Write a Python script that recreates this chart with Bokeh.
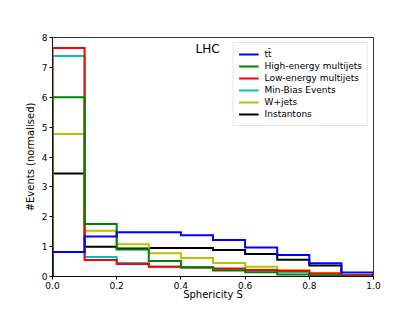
import numpy as np
from bokeh.plotting import figure
from bokeh.models import Legend, LegendItem, FixedTicker, Label
from bokeh.embed import file_html
from bokeh.resources import INLINE

edges = [0.0, 0.1, 0.2, 0.3, 0.4, 0.5, 0.6, 0.7, 0.8, 0.9, 1.0]

names = ["tt̄", "High-energy multijets", "Low-energy multijets",
         "Min-Bias Events", "W+jets", "Instantons"]
colors = ["#0000ff", "#008000", "#ff0000", "#00bfbf", "#bfbf00", "#000000"]

ttbar = [0.82, 1.34, 1.48, 1.48, 1.38, 1.22, 0.97, 0.72, 0.44, 0.13]
high_multijets = [6.0, 1.76, 0.90, 0.52, 0.31, 0.20, 0.14, 0.07, 0.03, 0.01]
low_multijets = [7.65, 0.55, 0.42, 0.33, 0.30, 0.27, 0.22, 0.18, 0.10, 0.05]
min_bias = [7.38, 0.65, 0.45, 0.33, 0.30, 0.25, 0.20, 0.15, 0.08, 0.03]
wjets = [4.77, 1.53, 1.08, 0.78, 0.62, 0.45, 0.33, 0.22, 0.12, 0.05]
instantons = [3.45, 1.00, 0.94, 0.95, 0.95, 0.89, 0.75, 0.56, 0.37, 0.05]

series = [ttbar, high_multijets, low_multijets, min_bias, wjets, instantons]

x_ticks = [0.0, 0.2, 0.4, 0.6, 0.8, 1.0]
y_ticks = [0, 1, 2, 3, 4, 5, 6, 7, 8]

p = figure(width=415, height=311, output_backend="svg", toolbar_location=None,
           x_range=(0, 1), y_range=(0, 8),
           min_border_left=52, min_border_right=42, min_border_top=37, min_border_bottom=35)
p.xgrid.visible = False
p.ygrid.visible = False
p.outline_line_color = "black"
p.outline_line_width = 0.8
p.background_fill_color = "white"
p.border_fill_color = "white"


def outline(vals):
    xs, ys = [edges[0]], [0.0]
    for i, v in enumerate(vals):
        xs += [edges[i], edges[i + 1]]
        ys += [v, v]
    xs.append(edges[-1])
    ys.append(0.0)
    return xs, ys


renderers = [None] * len(series)
for i in reversed(range(len(series))):
    xs, ys = outline(series[i])
    renderers[i] = p.line(xs, ys, line_color=colors[i], line_width=2,
                          line_join="miter")

items = [LegendItem(label=names[i], renderers=[renderers[i]]) for i in range(len(series))]
legend = Legend(items=items, location="top_right")
legend.label_text_font = "DejaVu Sans"
legend.label_text_font_size = "9px"
legend.label_text_line_height = 1.0
legend.label_text_color = "black"
legend.label_height = 12
legend.glyph_height = 12
legend.glyph_width = 20
legend.spacing = 0
legend.padding = 5
legend.margin = 5
legend.label_standoff = 6
legend.border_line_color = "#cccccc"
legend.border_line_width = 1
legend.background_fill_alpha = 0.8
p.add_layout(legend)

p.add_layout(Label(x=0.4455, y=7.63, text="LHC", text_font="DejaVu Sans",
                   text_font_size="12px", text_baseline="middle", text_align="left",
                   text_color="black"))

for ax in (p.xaxis[0], p.yaxis[0]):
    ax.major_label_text_font = "DejaVu Sans"
    ax.major_label_text_font_size = "9px"
    ax.major_label_text_color = "black"
    ax.axis_label_text_font = "DejaVu Sans"
    ax.axis_label_text_font_size = "10px"
    ax.axis_label_text_font_style = "normal"
    ax.axis_label_text_color = "black"
    ax.major_tick_in = 0
    ax.major_tick_out = 3
    ax.major_tick_line_color = "black"
    ax.minor_tick_line_color = None
    ax.axis_line_color = "black"
    ax.axis_line_width = 0.8
    ax.major_label_standoff = 2
    ax.axis_label_standoff = 3

p.xaxis.axis_label_standoff = -3

p.xaxis.ticker = FixedTicker(ticks=x_ticks)
p.xaxis.major_label_overrides = {t: f"{t:.1f}" for t in x_ticks}
p.yaxis.ticker = FixedTicker(ticks=y_ticks)
p.yaxis.major_label_overrides = {t: str(t) for t in y_ticks}
p.xaxis.axis_label = "Sphericity S"
p.yaxis.axis_label = "#Events (normalised)"

open("out.html", "w").write(file_html(p, INLINE))
